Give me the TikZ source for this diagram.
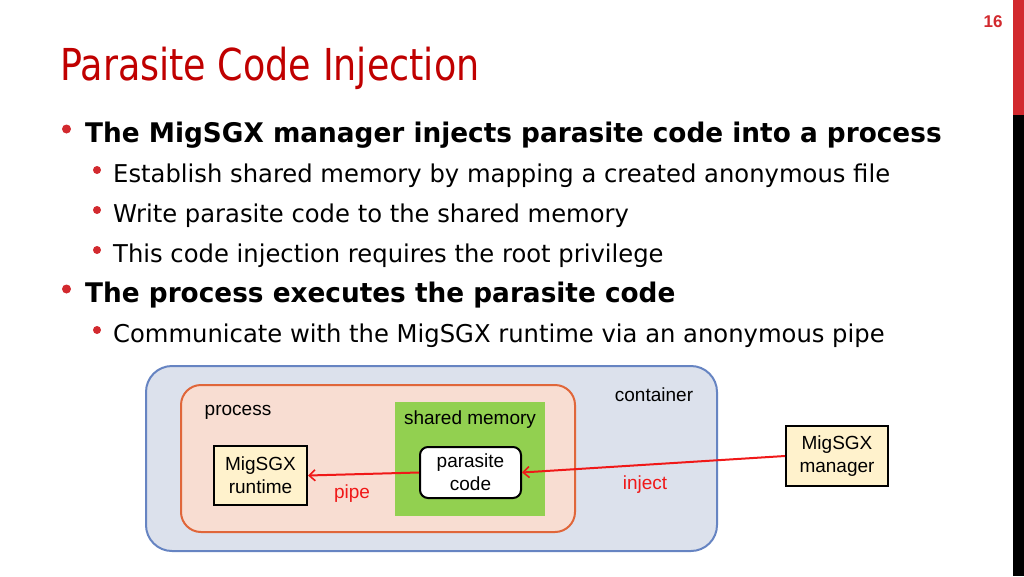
\documentclass[tikz,border=0pt]{standalone}
\usepackage{fontspec}
\setmainfont{Liberation Sans}
\newfontfamily\tahreg[FakeStretch=0.99]{DejaVu Sans}
\newfontfamily\tahbold[FakeStretch=0.975]{DejaVu Sans Bold}
\newfontfamily\tahtitle[FakeStretch=0.83]{DejaVu Sans}
\usetikzlibrary{arrows.meta}
\definecolor{titlered}{HTML}{C00000}
\definecolor{barred}{HTML}{D2292E}
\definecolor{contfill}{HTML}{DCE1EC}
\definecolor{contline}{HTML}{6684C2}
\definecolor{procfill}{HTML}{F8DDD2}
\definecolor{procline}{HTML}{E0663A}
\definecolor{shmfill}{HTML}{92D050}
\definecolor{boxfill}{HTML}{FFF2CC}
\definecolor{arrred}{HTML}{F01818}
\tikzset{
  txt/.style={anchor=base west, inner sep=0pt, text=black},
  bigbullet/.style={fill=barred, circle, inner sep=0pt, minimum size=9pt},
  smallbullet/.style={fill=barred, circle, inner sep=0pt, minimum size=8pt},
  lvlone/.style={txt, font=\tahbold\fontsize{27}{30}\selectfont},
  lvltwo/.style={txt, font=\tahreg\fontsize{24.5}{28}\selectfont},
  dlabel/.style={inner sep=0pt, font=\fontsize{19}{23}\selectfont},
  sqbox/.style={draw=black, line width=2pt, fill=boxfill, inner sep=0pt, align=center, font=\fontsize{19}{23}\selectfont},
  redarrow/.style={draw=arrred, line width=2pt, -{Straight Barb[length=6pt,width=11pt,line width=1.6pt]}},
}
\begin{document}
\begin{tikzpicture}[x=1pt,y=-1pt]
\useasboundingbox (0,0) rectangle (1024,576);
\fill[white] (0,0) rectangle (1024,576);
% right bar
\fill[barred] (1013,0) rectangle (1024,115);
\fill[black] (1013,115) rectangle (1024,576);
\node[inner sep=0pt, text=barred, font=\bfseries\fontsize{17}{19}\selectfont] (pagenum) at (993,21.5) {16};
% title
\node[txt, text=titlered, font=\tahtitle\fontsize{44}{48}\selectfont] (title) at (60,80) {Parasite Code Injection};
% bullets
\node[bigbullet] (b1) at (66.5,129) {};
\node[lvlone] (l1) at (85,142) {The MigSGX manager injects parasite code into a process};
\node[smallbullet] (b2) at (97,170) {};
\node[lvltwo] (l2) at (113,182) {Establish shared memory by mapping a created anonymous file};
\node[smallbullet] (b3) at (97,210) {};
\node[lvltwo] (l3) at (113,222) {Write parasite code to the shared memory};
\node[smallbullet] (b4) at (97,250) {};
\node[lvltwo] (l4) at (113,262) {This code injection requires the root privilege};
\node[bigbullet] (b5) at (66.5,289) {};
\node[lvlone] (l5) at (85,302) {The process executes the parasite code};
\node[smallbullet] (b6) at (97,330) {};
\node[lvltwo] (l6) at (113,342) {Communicate with the MigSGX runtime via an anonymous pipe};
% diagram
\draw[draw=contline, fill=contfill, line width=2pt, rounded corners=26pt] (146,366) rectangle (717,551);
\node[dlabel] (contlbl) at (654,395) {container};
\draw[draw=procline, fill=procfill, line width=2pt, rounded corners=20pt] (181,385) rectangle (575,532);
\node[dlabel] (proclbl) at (238,412) {process};
\fill[shmfill] (395,402) rectangle (545,516);
\node[dlabel] (shmlbl) at (470,419.5) {shared memory};
\node[sqbox, fill=white, rounded corners=8pt, minimum width=101pt, minimum height=51pt] (parasite) at (470.5,472.5) {parasite\\code};
\node[sqbox, minimum width=93pt, minimum height=59pt] (runtime) at (260.5,475.5) {MigSGX\\runtime};
\node[sqbox, minimum width=102pt, minimum height=60pt] (manager) at (837,456) {MigSGX\\manager};
\draw[redarrow] (manager.west) -- (parasite.east);
\draw[redarrow] (parasite.west) -- (runtime.east);
\node[dlabel, text=arrred] (inject) at (645,485) {inject};
\node[dlabel, text=arrred] (pipe) at (352,494) {pipe};
\end{tikzpicture}
\end{document}
